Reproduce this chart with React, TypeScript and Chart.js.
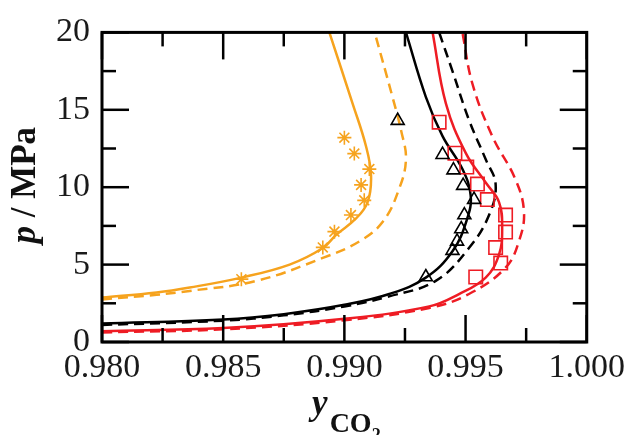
import { useEffect, useRef } from 'react';
import { Chart, registerables } from 'chart.js';

Chart.register(...registerables);

// ---------- axis ticks ----------
const xMajorTicks = [0.98, 0.985, 0.99, 0.995, 1.0];
const xMinorTicks = [0.9825, 0.9875, 0.9925, 0.9975];
const yMajorTicks = [0, 5, 10, 15, 20];
const yMinorTicks = [2.5, 7.5, 12.5, 17.5];

// ---------- model curves (y_CO2, p / MPa) ----------
const orangeSolidX = [0.98, 0.98225, 0.98362, 0.98575, 0.98774, 0.98911, 0.98966, 0.99048, 0.99096, 0.9911, 0.99089, 0.99034, 0.98938];
const orangeSolidP = [2.87, 3.2, 3.52, 4.16, 5.0, 6.07, 6.92, 7.98, 9.04, 10.75, 12.66, 15.4, 20];

const orangeDashX = [0.98, 0.98225, 0.98362, 0.98637, 0.98911, 0.99062, 0.9916, 0.99226, 0.99254, 0.99235, 0.99199, 0.99125];
const orangeDashP = [2.75, 3.05, 3.3, 3.95, 5.43, 6.5, 7.8, 9.9, 11.8, 13.6, 15.8, 20];

const blackSolidX = [0.98, 0.985, 0.9875, 0.99, 0.99185, 0.99336, 0.99446, 0.99507, 0.99521, 0.99487, 0.99405, 0.99336, 0.99254];
const blackSolidP = [1.19, 1.45, 1.8, 2.4, 3.1, 4.16, 5.86, 7.98, 9.47, 11.17, 13.3, 15.84, 20];

const blackDashX = [0.98, 0.985, 0.9875, 0.99, 0.99185, 0.99377, 0.99514, 0.99597, 0.99624, 0.99583, 0.99514, 0.99446, 0.99391];
const blackDashP = [1.1, 1.38, 1.72, 2.3, 2.95, 3.95, 6.07, 8.2, 10.2, 11.8, 14.35, 17.5, 20];

const redSolidX = [0.98, 0.985, 0.99, 0.9935, 0.99473, 0.99583, 0.99638, 0.99651, 0.99638, 0.99583, 0.99501, 0.99419, 0.99364];
const redSolidP = [0.7, 0.9, 1.5, 2.3, 3.1, 4.16, 5.65, 7.35, 9.04, 10.3, 12.2, 15.4, 20];

const redDashX = [0.98, 0.985, 0.99, 0.9935, 0.99514, 0.99665, 0.9972, 0.99741, 0.99706, 0.9961, 0.99528, 0.99487];
const redDashP = [0.62, 0.82, 1.4, 2.2, 3.1, 4.8, 6.5, 8.4, 10.5, 13.3, 16.7, 20];

// ---------- experimental points ----------
const starX = [0.98575, 0.98911, 0.98959, 0.99027, 0.99082, 0.99069, 0.99103, 0.99041, 0.99];
const starP = [4.06, 6.11, 7.13, 8.2, 9.15, 10.15, 11.17, 12.17, 13.2];

const triX = [0.99336, 0.99446, 0.99465, 0.99482, 0.99495, 0.99535, 0.9949, 0.9945, 0.99405, 0.9922];
const triP = [4.2, 5.9, 6.5, 7.3, 8.2, 9.2, 10.1, 11.1, 12.1, 14.3];

const sqX = [0.99542, 0.99645, 0.99624, 0.99665, 0.99665, 0.9959, 0.99549, 0.99505, 0.99456, 0.99391];
const sqP = [4.2, 5.1, 6.1, 7.1, 8.2, 9.2, 10.2, 11.3, 12.2, 14.2];

const xTitleMain = 'y';
const xTitleSub = 'CO';
const xTitleSub2 = '2';
const yTitleVar = 'p';
const yTitleUnit = ' / MPa';

const ORANGE = '#F6A31E';
const RED = '#EE1C24';
const BLACK = '#000000';
const FONT = "'Liberation Serif', 'Times New Roman', serif";

const pts = (xs: number[], ys: number[]) => xs.map((x, i) => ({ x, y: ys[i] }));

const curve = (xs: number[], ys: number[], color: string, dashed: boolean) => ({
  data: pts(xs, ys),
  showLine: true,
  borderColor: color,
  backgroundColor: color,
  borderWidth: 2.5,
  borderDash: dashed ? [10, 6] : [],
  pointRadius: 0,
  tension: 0.4,
  fill: false,
});

const markers = (xs: number[], ys: number[], color: string, style: string, radius: number) => ({
  data: pts(xs, ys),
  showLine: false,
  pointStyle: style,
  pointRadius: radius,
  pointBorderColor: color,
  pointBackgroundColor: 'rgba(0,0,0,0)',
  pointBorderWidth: 1.6,
  borderColor: color,
  backgroundColor: 'rgba(0,0,0,0)',
});

const setTicks = (arr: number[]) => (s: any) => {
  s.ticks = arr.map((v) => ({ value: v }));
};

// inward tick marks on all four sides + frame, placed through the chart's scales
const framePlugin = {
  id: 'frameTicks',
  afterDatasetsDraw(chart: any) {
    const { ctx, chartArea } = chart;
    const { left, right, top, bottom } = chartArea;
    const xs = chart.scales.x;
    const ys = chart.scales.y;
    ctx.save();
    ctx.strokeStyle = BLACK;
    ctx.lineCap = 'butt';
    ctx.lineWidth = 2.5;
    const seg = (x1: number, y1: number, x2: number, y2: number) => {
      ctx.beginPath();
      ctx.moveTo(x1, y1);
      ctx.lineTo(x2, y2);
      ctx.stroke();
    };
    const xt = (vals: number[], len: number) =>
      vals.forEach((v) => {
        const px = xs.getPixelForValue(v);
        seg(px, bottom, px, bottom - len);
        seg(px, top, px, top + len);
      });
    const yt = (vals: number[], len: number) =>
      vals.forEach((v) => {
        const py = ys.getPixelForValue(v);
        seg(left, py, left + len, py);
        seg(right, py, right - len, py);
      });
    xt(xMajorTicks, 27);
    xt(xMinorTicks, 14);
    yt(yMajorTicks, 27);
    yt(yMinorTicks, 14);
    ctx.lineWidth = 3;
    ctx.strokeRect(left, top, right - left, bottom - top);
    ctx.restore();
  },
};

const titlePlugin = {
  id: 'axisTitles',
  afterDraw(chart: any) {
    const { ctx, chartArea } = chart;
    ctx.save();
    ctx.fillStyle = '#111';
    ctx.textBaseline = 'alphabetic';
    ctx.textAlign = 'left';
    // y-axis title (rotated)
    const cy = (chartArea.top + chartArea.bottom) / 2 - 2;
    ctx.save();
    ctx.translate(35, cy);
    ctx.rotate(-Math.PI / 2);
    ctx.font = `italic bold 35px ${FONT}`;
    const w1 = ctx.measureText(yTitleVar).width;
    ctx.font = `bold 35px ${FONT}`;
    const w2 = ctx.measureText(yTitleUnit).width;
    const x0 = -(w1 + w2) / 2;
    ctx.font = `italic bold 35px ${FONT}`;
    ctx.fillText(yTitleVar, x0, 0);
    ctx.font = `bold 35px ${FONT}`;
    ctx.fillText(yTitleUnit, x0 + w1, 0);
    ctx.restore();
    // x-axis title with subscript
    const cx = (chartArea.left + chartArea.right) / 2;
    ctx.font = `italic bold 35px ${FONT}`;
    const a = ctx.measureText(xTitleMain).width;
    ctx.font = `bold 28px ${FONT}`;
    const b = ctx.measureText(xTitleSub).width;
    ctx.font = `bold 18px ${FONT}`;
    const c = ctx.measureText(xTitleSub2).width;
    let x = cx - (a + b + c + 2) / 2 + 2;
    ctx.font = `italic bold 35px ${FONT}`;
    ctx.fillText(xTitleMain, x, 414);
    x += a + 2;
    ctx.font = `bold 28px ${FONT}`;
    ctx.fillText(xTitleSub, x, 432);
    x += b;
    ctx.font = `bold 18px ${FONT}`;
    ctx.fillText(xTitleSub2, x, 441);
    ctx.restore();
  },
};

export default function App() {
  const ref = useRef<HTMLCanvasElement>(null);
  useEffect(() => {
    if (!ref.current) return;
    const chart = new Chart(ref.current, {
      type: 'scatter',
      data: {
        datasets: [
          markers(starX, starP, ORANGE, 'star', 7),
          markers(triX, triP, BLACK, 'triangle', 7.5),
          markers(sqX, sqP, RED, 'rect', 9.5),
          curve(orangeSolidX, orangeSolidP, ORANGE, false),
          curve(orangeDashX, orangeDashP, ORANGE, true),
          curve(blackSolidX, blackSolidP, BLACK, false),
          curve(blackDashX, blackDashP, BLACK, true),
          curve(redSolidX, redSolidP, RED, false),
          curve(redDashX, redDashP, RED, true),
        ] as any,
      },
      options: {
        responsive: false,
        animation: false,
        devicePixelRatio: 1,
        layout: { padding: { top: 28, right: 43, bottom: 0, left: 0 } },
        plugins: { legend: { display: false }, tooltip: { enabled: false } },
        scales: {
          x: {
            type: 'linear',
            position: 'bottom',
            min: 0.98,
            max: 1.0,
            afterBuildTicks: setTicks(xMajorTicks),
            afterFit: (s: any) => {
              s.height = 93;
            },
            grid: { display: false, drawTicks: false },
            border: { display: false },
            ticks: {
              autoSkip: false,
              maxRotation: 0,
              padding: 6,
              color: '#1a1a1a',
              font: { family: FONT, size: 34 },
              callback: (v: any) => Number(v).toFixed(3),
            },
          },
          y: {
            type: 'linear',
            position: 'left',
            min: 0,
            max: 20,
            afterBuildTicks: setTicks(yMajorTicks),
            afterFit: (s: any) => {
              s.width = 102;
            },
            grid: { display: false, drawTicks: false },
            border: { display: false },
            ticks: {
              autoSkip: false,
              padding: 12,
              color: '#1a1a1a',
              font: { family: FONT, size: 34 },
              callback: (v: any) => String(Number(v)),
            },
          },
        } as any,
      },
      plugins: [framePlugin, titlePlugin],
    } as any);
    return () => chart.destroy();
  }, []);
  return (
    <div style={{ position: 'fixed', left: 0, top: 0, width: 631, height: 435, background: '#fff' }}>
      <canvas ref={ref} width={631} height={435} style={{ display: 'block' }} />
    </div>
  );
}
